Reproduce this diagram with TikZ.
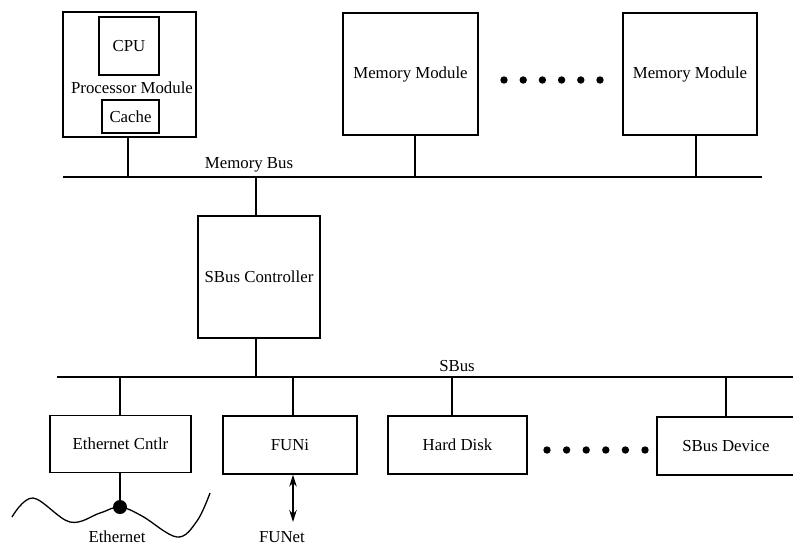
\documentclass[tikz,border=0pt]{standalone}
\usepackage{fontspec}
\setmainfont{Liberation Serif}
\usetikzlibrary{arrows.meta}
\begin{document}
\begin{tikzpicture}[x=1pt,y=-1pt,
  box/.style={draw,line width=1.3pt,inner sep=0pt},
  bus/.style={line width=2.8pt},
  wire/.style={line width=1.3pt},
  lbl/.style={inner sep=0pt},
  twoway/.style={<->,>={Stealth[length=12pt,width=7.5pt]}},
  every node/.style={font=\fontsize{16.8}{19}\selectfont}]
\useasboundingbox (0,0) rectangle (793,547);
\clip (0,0) rectangle (793,547);

% ---- processor and memory modules ----
\node[box,minimum width=133pt,minimum height=125pt] (proc) at (129.5,74.5) {};
\node[box,minimum width=60pt,minimum height=58pt] (cpu) at (129,46) {CPU};
\node[lbl] (plabel) at (132,88) {Processor Module};
\node[box,minimum width=57pt,minimum height=33pt] (cache) at (130.5,116.5) {Cache};

\node[box,minimum width=135pt,minimum height=122pt] (mem1) at (410.5,74) {Memory Module};
\node[box,minimum width=134pt,minimum height=122pt] (mem2) at (690,74) {Memory Module};
\foreach \i in {0,...,5}
  \fill (504+19.2*\i,80) circle (3.7pt);

% ---- memory bus ----
\coordinate (mbusL) at (63,177);
\coordinate (mbusR) at (762,177);
\draw[bus] (mbusL) -- (mbusR);
\node[lbl] (mbuslabel) at (249,165) {Memory Bus};

\draw[wire] ([xshift=-1.5pt]proc.south) -- ([xshift=-1.5pt]proc.south |- mbusL);
\draw[wire] ([xshift=4.5pt]mem1.south) -- ([xshift=4.5pt]mem1.south |- mbusL);
\draw[wire] ([xshift=6pt]mem2.south) -- ([xshift=6pt]mem2.south |- mbusL);

% ---- SBus controller ----
\node[box,minimum width=122pt,minimum height=122pt] (sbc) at (259,277) {SBus Controller};
\draw[wire] ([xshift=-3pt]sbc.north) -- ([xshift=-3pt]sbc.north |- mbusL);

% ---- SBus ----
\coordinate (sbusL) at (57,377);
\coordinate (sbusR) at (800,377);
\draw[bus] (sbusL) -- (sbusR);
\node[lbl] (sbuslabel) at (457,366) {SBus};
\draw[wire] ([xshift=-3pt]sbc.south) -- ([xshift=-3pt]sbc.south |- sbusL);

% ---- SBus devices ----
\node[box,minimum width=141pt,minimum height=57pt] (eth) at (120.5,444) {Ethernet Cntlr};
\node[box,minimum width=134pt,minimum height=58pt] (fun) at (290,445) {FUNi};
\node[box,minimum width=139pt,minimum height=58pt] (hd) at (457.5,445) {Hard Disk};
\node[box,minimum width=138pt,minimum height=58pt] (dev) at (726,446) {SBus Device};
\foreach \i in {0,...,5}
  \fill (547+19.6*\i,450) circle (3.7pt);

\draw[wire] ([xshift=-0.5pt]eth.north) -- ([xshift=-0.5pt]eth.north |- sbusL);
\draw[wire] ([xshift=3pt]fun.north) -- ([xshift=3pt]fun.north |- sbusL);
\draw[wire] ([xshift=-5.5pt]hd.north) -- ([xshift=-5.5pt]hd.north |- sbusL);
\draw[wire] (dev.north) -- (dev.north |- sbusL);

% ---- Ethernet tap ----
\coordinate (tap) at (120,507);
\draw[wire] plot[smooth,tension=0.6] coordinates
  {(12,517) (33,498) (70,522) (100,513) (120,507) (142,516) (177,537) (197,521) (210,493)};
\draw[wire] ([xshift=-0.5pt]eth.south) -- (tap);
\fill (tap) circle (7pt);
\node[lbl] (ethlabel) at (117,537) {Ethernet};

% ---- FUNet link ----
\coordinate (funetEnd) at (293,522);
\draw[wire,twoway] ([xshift=3pt]fun.south) -- (funetEnd);
\node[lbl] (funetlabel) at (282,537) {FUNet};
\end{tikzpicture}
\end{document}
